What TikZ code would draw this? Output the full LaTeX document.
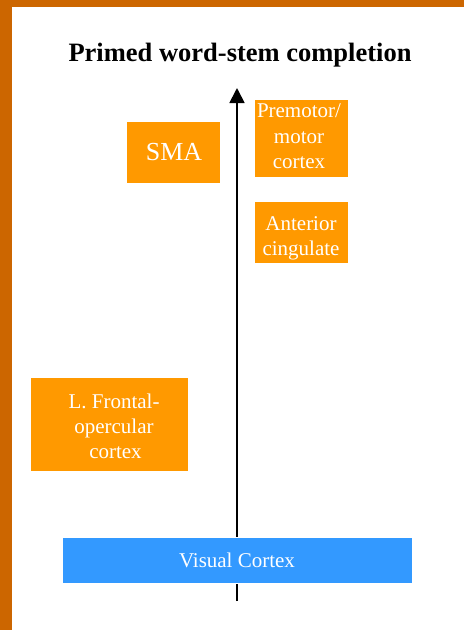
\documentclass[tikz,border=0pt]{standalone}
\usepackage{fontspec}
\setmainfont{Liberation Serif}
\usetikzlibrary{arrows.meta}
\definecolor{frameorange}{HTML}{CC6600}
\definecolor{boxorange}{HTML}{FF9900}
\definecolor{boxblue}{HTML}{3399FF}
\tikzset{
  region/.style={fill=boxorange, draw=white, line width=0.6pt, inner sep=0pt},
  visual/.style={fill=boxblue, draw=white, line width=0.6pt, inner sep=0pt},
  boxtext/.style={text=white, align=center, inner sep=0pt, font=\fontsize{21}{25}\selectfont},
  axis/.style={line width=1.8pt, -{Triangle[length=15pt,width=15pt]}}
}
\begin{document}
\begin{tikzpicture}[x=1pt,y=-1pt]
\useasboundingbox (0,0) rectangle (464,630);
\fill[white] (0,0) rectangle (464,630);
\fill[frameorange] (0,0) rectangle (464,7);
\fill[frameorange] (0,0) rectangle (12,630);
\node[font=\bfseries\fontsize{26.5}{30}\selectfont] (title) at (240,55) {Primed word-stem completion};
\coordinate (base) at (237,601);
\coordinate (top) at (237,88);
\draw[axis] (base) -- (top);
\node[region, minimum width=94pt, minimum height=62pt] (sma) at (173,152) {};
\node[boxtext, font=\fontsize{26}{30}\selectfont] (smatext) at ([xshift=1pt]sma.center) {SMA};
\node[region, minimum width=94pt, minimum height=78pt] (premotor) at (301,138) {};
\node[boxtext, font=\fontsize{21}{25.5}\selectfont] (premotortext) at ([xshift=-2pt,yshift=1.5pt]premotor.center) {Premotor/\\motor\\cortex};
\node[region, minimum width=94pt, minimum height=62pt] (acc) at (301,232) {};
\node[boxtext] (acctext) at ([yshift=-6pt]acc.center) {Anterior\\cingulate};
\node[region, minimum width=158pt, minimum height=94pt] (lfo) at (109,424) {};
\node[boxtext] (lfotext) at ([xshift=5pt,yshift=-2pt]lfo.center) {L. Frontal-\\opercular\\\hspace*{3pt}cortex};
\node[visual, minimum width=350pt, minimum height=46pt] (visual) at (237,560) {};
\node[boxtext] (visualtext) at (visual.center) {Visual Cortex};
\end{tikzpicture}
\end{document}
